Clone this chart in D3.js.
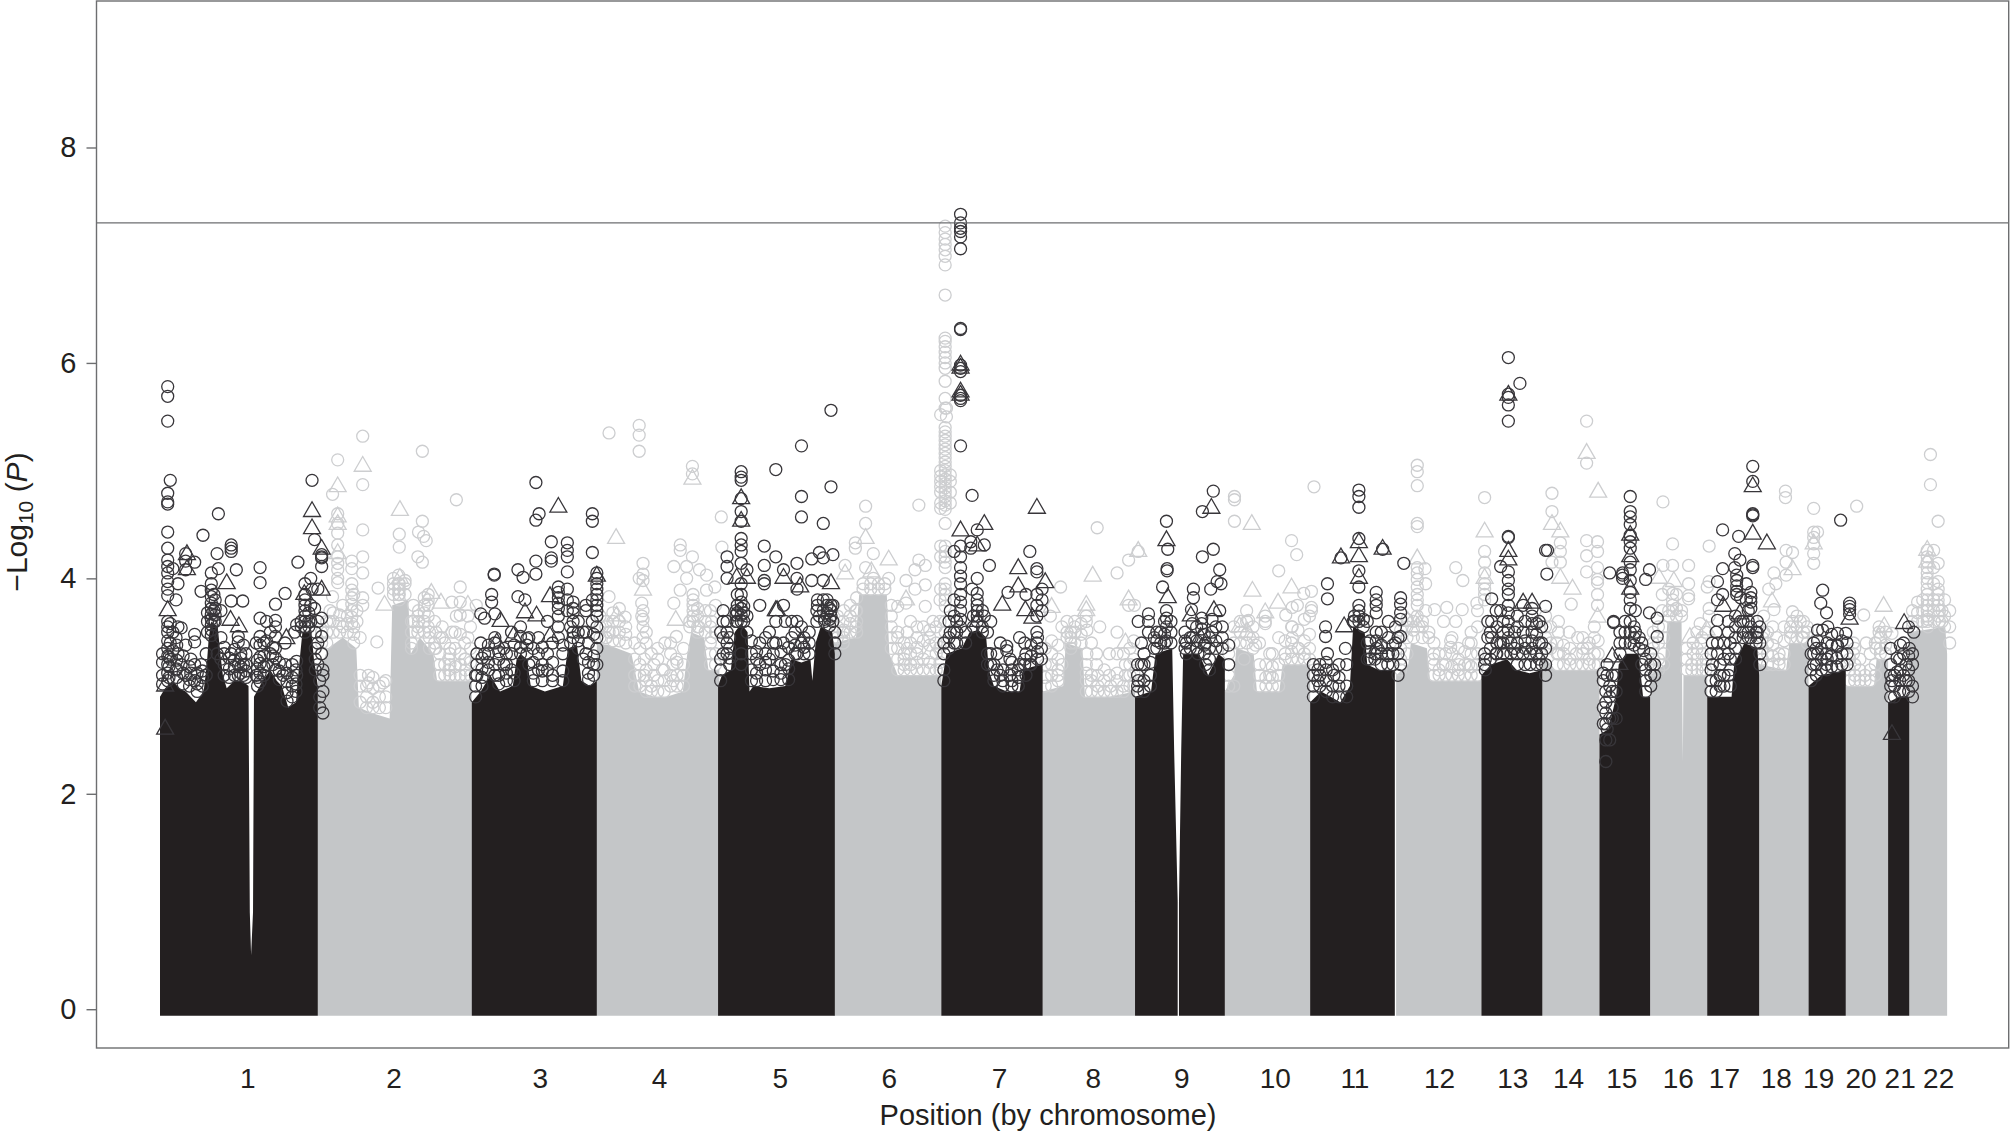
<!DOCTYPE html>
<html>
<head>
<meta charset="utf-8">
<style>
body { margin: 0; background: #fff; }
text { font-family: "Liberation Sans", Arial, sans-serif; fill: #231f20; }
</style>
<script src="https://cdn.jsdelivr.net/npm/d3@7"></script>
</head>
<body>
<div id="chart"></div>
<script>
// chromosome labels and where they sit on the genome axis (Mb, cumulative)
const chromLabels = ["1","2","3","4","5","6","7","8","9","10","11","12","13","14","15","16","17","18","19","20","21","22"]
const chromLabelPos = [136,364,592,778,966,1136,1308,1454,1592,1738,1862,1994,2108,2195,2278,2366,2438,2519,2585,2651,2712,2772]
const yTicks = [0,2,4,6,8]
const threshold = 7.3

// top of the solid mass of points: [position, -log10 P], null ends a chromosome
const darkEnvelope = [
  [0,2.9],[8,2.98],[20,3.05],[30,2.98],[40,2.95],[56,2.85],[68,2.95],[73,3.2],[76,3.45],[80,3.6],[90,3.55],[94,3.3],[98,3.1],[104,2.98],[116,3.05],[128,3.05],[138,3.0],[140,0.9],[142,0.5],[145,0.9],[146.5,2.9],[160,3.05],[172,3.15],[182,3.05],[190,3.0],[200,2.8],[212,2.85],[217,3.2],[222,3.5],[236,3.5],[240,3.25],[246,3.0],null,
  [486,2.85],[500,2.95],[515,3.1],[530,2.95],[550,3.0],[556,3.25],[562,3.3],[572,3.25],[578,3.0],[600,2.95],[628,3.0],[636,3.35],[650,3.38],[657,3.05],[670,3.0],[681,3.05],null,
  [870,3.0],[876,3.1],[890,3.15],[896,3.5],[906,3.58],[916,3.5],[919,2.95],[925,3.0],[950,2.98],[975,3.0],[984,3.25],[1000,3.22],[1014,3.25],[1017,3.05],[1022,3.4],[1030,3.55],[1048,3.5],[1052,3.3],null,
  [1218,3.0],[1226,3.3],[1250,3.35],[1262,3.5],[1276,3.52],[1288,3.45],[1292,3.15],[1300,3.0],[1320,2.95],[1340,2.95],[1345,3.15],[1360,3.18],[1376,3.2],null,
  [1520,2.9],[1545,2.95],[1552,3.3],[1578,3.35],[1581,2.4],[1586.5,1.0],[1586.5,-0.06],null,[1588.5,-0.06],[1588.5,1.0],[1592,2.4],[1595,3.3],[1620,3.3],[1634,3.1],[1650,3.3],[1660,3.25],null,
  [1793,2.85],[1810,2.95],[1825,2.9],[1840,2.85],[1855,3.0],[1860,3.55],[1878,3.5],[1882,3.2],[1900,3.15],[1925,3.15],null,
  [2060,3.1],[2075,3.2],[2100,3.25],[2115,3.15],[2135,3.12],[2155,3.15],null,
  [2244,2.55],[2258,2.6],[2270,2.9],[2274,3.2],[2285,3.3],[2305,3.3],[2312,2.9],[2323,2.9],null,
  [2412,2.9],[2450,2.9],[2454,3.2],[2470,3.4],[2490,3.35],[2493,3.1],null,
  [2570,3.0],[2590,3.1],[2628,3.15],null,
  [2694,2.85],[2712,2.9],[2727,2.9],null
]
const lightEnvelope = [
  [246,3.1],[262,3.35],[285,3.45],[306,3.35],[310,2.8],[330,2.75],[358,2.7],[362,3.75],[387,3.8],[391,3.3],[405,3.45],[426,3.3],[432,3.05],[486,3.05],null,
  [681,3.4],[700,3.38],[735,3.3],[747,2.95],[770,2.9],[790,2.9],[815,2.95],[822,3.3],[828,3.5],[848,3.45],[855,3.15],[872,3.15],null,
  [1050,3.4],[1085,3.45],[1090,3.85],[1133,3.85],[1137,3.3],[1150,3.1],[1185,3.1],[1218,3.1],null,
  [1376,2.95],[1408,3.0],[1412,3.4],[1438,3.35],[1442,2.9],[1480,2.9],[1520,2.95],null,
  [1660,2.95],[1674,3.1],[1678,3.35],[1705,3.3],[1710,2.95],[1745,2.95],[1750,3.2],[1793,3.2],null,
  [1927,3.1],[1946,3.2],[1950,3.4],[1975,3.35],[1980,3.05],[2020,3.05],[2060,3.05],null,
  [2155,3.3],[2175,3.15],[2210,3.15],[2244,3.15],null,
  [2323,3.1],[2346,3.2],[2350,3.6],[2372,3.6],[2374,2.3],[2375,3.1],[2412,3.1],null,
  [2493,3.2],[2535,3.15],[2540,3.4],[2570,3.4],null,
  [2628,3.0],[2672,3.0],[2676,3.25],[2694,3.25],null,
  [2727,3.5],[2783,3.55],[2786,3.3],null
]

// rows are [position, value, value, ...]; odd chromosomes are dark, even ones light
const darkCircles = [
  // chr 1
  [12,5.78,5.69,5.46,4.79,4.71,4.69,4.43,4.28,4.17,4.11,4.05,3.97,3.9,3.84,3.6,3.55,3.5,3.42,3.35,3.28,3.2,3.12,3.05],
  [16,4.91,3.58,3.4,3.25],[20,4.09,3.5,3.33],[28,3.95,3.55,3.3],[25,3.8,3.45,3.15],[33,3.54,3.2],[40,4.23,4.16,4.08,3.38,3.1],
  [54,4.15,3.48,3.41,3.2,3.05],[48,3.25,3.12],[67,4.4],[64,3.88,3.2],[72,3.3,3.1],
  [80,4.05,3.95,3.89,3.83,3.77,3.72,3.67,3.62,3.57,3.52,3.47],[84,3.85,3.7,3.6],[89,4.23,3.3],[91,4.6,4.09],[95,3.7,3.45,3.25],
  [111,4.31,4.28,4.25,3.79,3.3],[119,4.08],[129,3.79],[122,3.46,3.41,3.2,3.1],[130,3.38,3.2,3.1],
  [156,4.1,3.96,3.63,3.46,3.38,3.27,3.21,3.12,3.04],[150,3.1,3.4],[166,3.6,3.42,3.2],[180,3.76,3.61,3.55,3.46,3.35,3.26,3.15],[172,3.5,3.3],
  [195,3.86,3.4,3.2],[192,3.1],[213,3.57,3.23,3.1],[210,3.5],[215,4.15],[226,3.95,3.85,3.8,3.75,3.7,3.65,3.6,3.55,3.5],
  [235,4.0,3.75,3.6],[237,4.91,3.9],[241,4.36,3.72],[252,4.22,4.2,4.19,4.11,3.63,3.46,3.3],[246,3.9,3.6,3.4,3.2],
  // chr 3
  [586,4.89,4.54,4.16,4.04],[591,4.6],[674,4.6,4.53,4.24,3.8,3.6],[610,4.34,4.19,4.16],[635,4.33,4.26,4.2,4.06,3.9,3.8,3.7],[558,4.08,3.83],[566,4.01],
  [521,4.04,4.03],[517,3.85,3.78],[569,3.8],[500,3.67,3.4],[506,3.63,3.3],[522,3.67,3.45,3.4,3.2,3.1],
  [621,3.92,3.87,3.82,3.77,3.72,3.65,3.55,3.45],[644,3.78,3.72,3.68,3.6,3.5,3.45],[681,4.05,4.0,3.95,3.9,3.85,3.8,3.75,3.7,3.65,3.55,3.45,3.35,3.2],
  [664,3.75,3.7,3.5,3.3],[548,3.5,3.3,3.15],[536,3.35,3.2],[575,3.45,3.2],[590,3.45,3.3,3.15],[604,3.6,3.3,3.15],[494,3.2,3.3,3.1],[660,3.5,3.25],
  // chr 5
  [960,5.01,4.2,3.6,3.4],[906,4.99,4.94,4.91,4.74,4.62,4.53,4.37,4.31,4.25,4.14,3.95,3.85,3.78,3.72,3.66,3.6,3.3,3.2],[942,4.3,4.12,3.98,3.95],[972,4.08,3.75,3.4],
  [884,4.2,4.11,4.0,3.6,3.5,3.4,3.3],[878,3.7,3.6,3.45,3.3],[915,4.08,3.65,3.5],[900,3.85,3.75,3.68,3.6],[1000,5.23,4.76,4.57,3.55,3.4],[1046,5.56,4.85,3.75,3.7,3.65],[1034,4.51,3.8,3.7],
  [993,4.14,4.0,3.9,3.6,3.3],[1016,4.18,3.98],[1028,4.24,3.65],[1034,4.19,3.98],[1049,4.22,3.75,3.6],[985,3.6,3.45],[975,3.6,3.2],[950,3.5,3.25],[935,3.75,3.4,3.2],[1025,3.8,3.75],[1040,3.8,3.75,3.68],
  // chr 7
  [1248,7.38,7.3,7.25,7.22,7.17,7.06,6.32,6.31,5.98,5.95,5.92,5.7,5.67,5.65,5.23,4.3,4.2,4.1,4.02,3.95,3.85,3.78,3.7,3.62,3.55],[1266,4.77,3.9],[1274,4.45,4.0,3.86,3.8,3.75,3.7,3.65,3.6],
  [1264,4.34,4.28],[1285,4.31,3.65],[1293,4.12],[1356,4.25,3.2],[1367,4.09,4.06,3.85,3.75,3.65,3.5,3.4],[1322,3.87],[1320,3.37,3.33],[1350,3.85,3.3,3.1],[1375,3.9,3.8,3.7],[1238,4.25,3.8,3.65,3.5,3.4],
  [1232,3.7,3.5],[1295,3.6,3.3,3.2],[1305,3.3,3.15],[1325,3.25,3.1],[1340,3.45,3.2],[1310,3.4,3.1],
  // chr 9
  [1569,4.53,3.7,3.63,3.55,3.42],[1571,4.27],[1570,4.09,4.07],[1563,3.92],[1541,3.67,3.6,3.5],[1525,3.6,3.05],[1530,3.4,3.2],[1550,3.45,3.35],[1560,3.5,3.4],
  [1642,4.81,4.27],[1625,4.62,4.2],[1652,4.08,3.7],[1648,3.97],[1654,3.95],[1638,3.9],[1611,3.9,3.82],[1608,3.71],[1624,3.63,3.58,3.53],[1609,3.58,3.45],[1640,3.62,3.5],[1666,3.38,3.2],[1600,3.4,3.3],[1630,3.4,3.2],[1618,3.3],
  // chr 11
  [1869,4.82,4.76,4.66,4.37,4.07,3.92,3.75,3.7,3.65,3.6],[1841,4.19],[1906,4.27],[1939,4.14],[1820,3.95,3.81,3.3],[1896,3.87,3.8,3.75,3.68,3.5,3.42,3.35],[1934,3.82,3.76,3.68,3.62,3.46,3.2],
  [1817,3.55,3.46],[1848,3.35],[1915,3.6,3.45,3.3],[1805,3.15,3.05],[1860,3.6],[1926,3.55,3.4],[1882,3.6,3.4,3.25],[1830,3.1],
  // chr 13
  [2102,6.05,5.71,5.68,5.61,5.46,4.39,4.38,4.06,3.98,3.9,3.85,3.75,3.68,3.6,3.52,3.45],[2120,5.81],[2090,4.11,3.7,3.4],[2076,3.81,3.6,3.45],[2083,3.7,3.3],[2139,3.72,3.65,3.58,3.5,3.42,3.35],
  [2160,4.26,3.74],[2163,4.26],[2162,4.04],[2125,3.75,3.5,3.3],[2150,3.6,3.4,3.25],[2112,3.5,3.35],[2065,3.3,3.2],[2070,3.6,3.45],
  // chr 15
  [2292,4.76,4.62,4.57,4.5,4.4,4.34,4.28,4.15,4.08,3.98,3.87,3.8,3.72,3.6,3.5,3.4],[2260,4.05],[2280,4.05,4.03,4.0],[2266,3.6,3.59],[2316,3.99],[2322,4.08,3.68],[2334,3.63,3.46],[2313,3.33],[2254,2.95,2.85,2.75,2.65,2.5,2.3],[2260,3.0,2.9,2.7,2.5],[2300,3.7,3.5],[2310,3.4,3.2],
  // chr 17
  [2483,5.04,4.9,4.6,4.59,4.58,4.12,4.1],[2436,4.45,4.09],[2461,4.39],[2455,4.23,4.1],[2463,4.17],[2458,4.03,3.98,3.93,3.88,3.85],[2428,3.97,3.8,3.61,3.4,3.3],[2436,3.85],[2473,3.95,3.8],[2480,3.87,3.82,3.78,3.72,3.55,3.45],[2464,3.82,3.6],[2445,3.6,3.5,3.3,3.1],[2490,3.6,3.5,3.45],[2432,3.2,3.1,3.0],[2420,3.4,3.2],
  // chr 19
  [2592,3.89,3.52],[2589,3.77],[2598,3.68],[2584,3.52,3.42,3.3],[2600,3.55],[2615,3.49,3.38,3.37],[2628,3.49],[2634,3.77,3.74,3.71,3.67],[2620,4.54],[2599,3.4,3.25],[2578,3.4,3.3,3.2],
  // chr 21
  [2726,3.55],[2734,3.5],[2713,3.38,3.15],[2727,3.35],[2708,3.26,3.13],[2700,3.05],[2722,3.2,3.05]
]
// the crowded circles just above the solid mass
const darkBand = [
  [4,3.02,3.1,3.22,3.3],[14,3.08,3.18,3.27],[26,3.08,3.16,3.24,3.38],[36,3.02,3.12,3.28],[46,3.0,3.06,3.18],[58,2.95,3.02,3.12],[66,3.0,3.08,3.14],[74,3.5,3.6,3.68],[86,3.6,3.66,3.72,3.8],[100,3.1,3.2,3.3,3.36],[108,3.08,3.16,3.26],[116,3.1,3.18,3.24,3.34],[126,3.12,3.18,3.26,3.3],[134,3.08,3.14,3.2,3.3],
  [152,3.0,3.08,3.16,3.24],[162,3.1,3.18,3.28,3.4],[176,3.2,3.28,3.36],[186,3.06,3.14,3.22],[198,2.86,2.94,3.04,3.12],[206,2.9,3.0,3.08,3.2],[212,2.95,3.02,3.15],[220,3.55,3.6],[232,3.55,3.6,3.68],[242,3.15,3.25,3.35,3.5],[249,2.8,2.9,3.05],[254,2.75,2.95,3.1,3.15],
  [492,2.9,3.0,3.1],[502,3.0,3.08,3.16,3.26],[512,3.15,3.22,3.3,3.38],[528,3.02,3.1,3.25,3.32],[540,3.05,3.12,3.2,3.3],[552,3.05,3.12,3.38],[562,3.3,3.36,3.46,3.55],[572,3.3,3.38,3.44],[582,3.05,3.12,3.22,3.35],[596,3.05,3.14,3.2,3.36],[612,3.05,3.1,3.22,3.4],[628,3.05,3.14,3.3,3.38],[640,3.4,3.55],[652,3.42,3.35,3.5,3.6],[668,3.06,3.12,3.22,3.4],[676,3.1,3.2,3.28,3.48],
  [874,3.05,3.15,3.25,3.5],[888,3.2,3.26,3.35,3.45],[898,3.6,3.66,3.7],[910,3.6,3.68,3.74],[922,3.05,3.15,3.3,3.42],[930,3.05,3.12,3.25,3.32],[944,3.05,3.15,3.22,3.3,3.45],[956,3.06,3.14,3.3,3.4],[968,3.06,3.12,3.2,3.32],[980,3.06,3.16,3.24,3.36],[990,3.3,3.38,3.5],[1004,3.3,3.36,3.45],[1012,3.3,3.4,3.5],[1024,3.6,3.7],[1036,3.6,3.62],[1044,3.56,3.62,3.72],[1052,3.3,3.4,3.5],
  [1222,3.05,3.15,3.3,3.4],[1230,3.35,3.45,3.6],[1242,3.4,3.5,3.6],[1256,3.4,3.5],[1268,3.55,3.65],[1282,3.5,3.55,3.7],[1290,3.5,3.3,3.2],[1300,3.05,3.1,3.2],[1314,3.0,3.05,3.15],[1328,3.0,3.05,3.15,3.22],[1338,3.0,3.08,3.15],[1348,3.2,3.25,3.4],[1358,3.2,3.28,3.38],[1368,3.25,3.32,3.45],[1374,3.25,3.35],
  [1524,2.95,3.0,3.1,3.2],[1534,2.95,3.05,3.2,3.3],[1544,3.0,3.1,3.22],[1554,3.35,3.42,3.5],[1566,3.4,3.48,3.6],[1576,3.4,3.5,3.6],[1598,3.35,3.42,3.5],[1606,3.35,3.45],[1616,3.35,3.42,3.55],[1628,3.3,3.38,3.48],[1636,3.15,3.25,3.35,3.45],[1646,3.35,3.42,3.55],[1656,3.35,3.45,3.55],
  [1798,2.9,3.0,3.1,3.2],[1808,3.0,3.1,3.2],[1818,2.95,3.05,3.15,3.22],[1828,2.9,3.0,3.15],[1838,2.9,3.0,3.08,3.2],[1850,2.9,3.0,3.2],[1862,3.6,3.65],[1876,3.55,3.62],[1886,3.25,3.32,3.42],[1894,3.25,3.3],[1904,3.2,3.3,3.38,3.5],[1914,3.2,3.28],[1922,3.2,3.3,3.38],[1930,3.1,3.3,3.45],
  [2066,3.15,3.25],[2074,3.25,3.35,3.5],[2084,3.3,3.4,3.55],[2094,3.3,3.4,3.5,3.6],[2106,3.3,3.4],[2116,3.2,3.3,3.4,3.55,3.65],[2128,3.2,3.35,3.42,3.6],[2136,3.2,3.3],[2146,3.2,3.3,3.48,3.58],[2154,3.2,3.3,3.4,3.55],[2160,3.1,3.2,3.35],
  [2250,2.65,2.8,3.05,3.12],[2256,2.6,3.1,3.2],[2264,2.7,2.8,2.95,3.1],[2270,2.7,2.95,3.1],[2276,3.3,3.4,3.5],[2284,3.4,3.5,3.6],[2298,3.38,3.45,3.55],[2306,3.35,3.45],[2316,2.95,3.05,3.15,3.25],[2324,3.0,3.1,3.2,3.3],[2330,3.1,3.2],
  [2418,2.95,3.05,3.15,3.3],[2426,2.95,3.05,3.5],[2438,3.0,3.1,3.25,3.4],[2448,3.0,3.15,3.25,3.4],[2456,3.25,3.35,3.45,3.55,3.65],[2468,3.45,3.5,3.6],[2476,3.45,3.5,3.6,3.7],[2488,3.4,3.5],[2494,3.2,3.3,3.4,3.55],
  [2574,3.05,3.15,3.3],[2582,3.1,3.2,3.35],[2590,3.15,3.25,3.35],[2598,3.15,3.2,3.3],[2606,3.18,3.28,3.38,3.48],[2614,3.18,3.26],[2622,3.2,3.3,3.42],[2630,3.2,3.3,3.4],
  [2698,2.9,3.0,3.1,3.2,3.35],[2704,2.9,3.0,3.1],[2712,2.95,3.05,3.25],[2718,2.95,3.1,3.3,3.4],[2726,2.95,3.05,3.15,3.28],[2732,2.9,3.0,3.2,3.3]
]
const darkTriangles = [
  [12,3.7],[42,4.22,4.08],[104,3.95],[110,3.61],[123,3.55],[197,3.44],[237,4.62,4.46],[252,4.27,3.89],[225,3.85],[8,3.0,2.6],
  [621,4.66],[681,4.02],[531,3.6],[587,3.65],[569,3.68],[608,3.83,3.46],[551,3.46],[525,3.4],
  [906,4.74,4.53],[899,4.0],[915,4.0],[972,4.0],[960,3.7],[1046,3.95],[998,3.92],[962,3.7],[1000,3.4],
  [1248,5.98,5.95,5.73,5.7,4.44],[1367,4.65],[1285,4.5],[1274,4.3],[1338,4.09,3.92],[1380,3.96],[1313,3.75],[1349,3.7],[1360,3.63],[1275,3.6],
  [1569,4.35],[1571,3.82],[1639,4.65],[1607,3.65],[1643,3.7],[1622,3.45],
  [1869,4.33,4.2,4.0],[1841,4.19],[1906,4.27],[1846,3.55],[1900,3.35],
  [2102,5.7,4.25,4.17],[2125,3.77],[2139,3.77],[2095,3.3],
  [2264,3.27],[2292,4.4,4.2,3.9],[2275,3.2],
  [2483,4.85,4.41],[2505,4.32],[2437,3.74],[2463,3.67],
  [2634,3.62],[2719,3.58],[2700,2.55]
]
const lightCircles = [
  // chr 2
  [277,5.1,4.6,4.51,4.42,4.31,4.2,4.14,4.08,4.0,3.96],[269,4.78,3.83],[316,5.32,4.87,4.45,4.2,4.05,3.82,3.75],[409,5.18,4.53],[462,4.73,3.65],[373,4.41,4.29,3.95,3.9,3.85,3.8],[403,4.43,3.7,3.6],[411,4.39],[415,4.35],
  [402,4.2],[409,4.15],[299,4.16,4.09,3.95,3.89,3.82,3.76,3.7,3.64,3.58],[340,3.91],[338,3.41],[468,3.92,3.78,3.66],[455,3.78,3.5],[325,3.1,3.03],[332,2.98,3.08],[348,3.03],[307,3.7,3.6],
  [440,3.55,3.45],[430,3.5,3.35],[480,3.65,3.45],[418,3.85,3.8,3.75,3.65,3.55],[285,3.55,3.75],[265,3.6,3.7],[475,3.4,3.25],[450,3.25,3.15],[395,3.6,3.75],
  // chr 4
  [700,5.35,3.83,3.5],[747,5.42,5.33,5.18,4.0],[830,5.04,4.97],[875,4.57],[876,4.29],[811,4.31,4.26,3.89],[830,4.2],[801,4.11,3.77],[821,4.11,4.0],[841,4.08],[852,4.03,3.89],[753,4.14,4.04,3.98,3.7,3.62,3.55,3.45],[865,3.92],
  [831,3.85,3.8,3.75,3.7,3.65,3.6],[751,3.77,3.65],[787,3.4],[805,3.46,3.25],[725,3.64],[716,3.72],[755,3.25,3.1],[770,3.2,3.1],[783,3.15],[800,3.2,3.05],[493,3.75],[840,3.55],[695,3.55,3.45],[860,3.6,3.45],
  // chr 6
  [1100,4.67,4.51,4.1],[1084,4.33,4.28],[1183,4.68,4.17],[1068,4.12],[1112,4.23,4.0],[1136,4.0],[1193,4.12,3.94,3.74],[1177,4.08],[1163,3.98,3.77],[1177,3.9],[1150,3.74,3.5],[1065,3.6,3.5,3.4],[1085,3.7,3.55],[1165,3.5,3.35],[1180,3.45,3.3],[1200,3.45],[1160,3.3,3.2],[1205,3.6],
  [1224,7.27,7.21,7.15,7.1,7.05,6.99,6.91,6.63,6.23,6.2,6.15,6.1,6.05,6.0,5.95,5.83,5.67,5.58,5.4,5.36,5.32,5.28,5.24,5.2,5.16,5.12,5.08,5.04,5.0,4.96,4.92,4.88,4.84,4.8,4.76,4.72,4.68,4.64,4.51,4.3,4.25,4.2,4.15,4.1,3.95,3.9,3.85,3.8,3.74,3.6,3.5,3.4],
  [1217,5.52,5.0,4.95,4.9,4.85,4.8,4.7,4.65,4.3,4.2,3.9],[1232,4.96,4.9,4.8,4.7],[1226,5.5,5.58],
  // chr 8
  [1461,4.47],[1525,4.25],[1510,4.17,3.75],[1492,4.05],[1404,3.92],[1519,3.75],[1444,3.65,3.6],[1388,3.65],[1445,3.52,3.3],[1465,3.55],[1492,3.5],[1406,3.55,3.2],[1420,3.5,3.45,3.4,3.35],[1460,3.3,3.2],[1480,3.3,3.1],[1505,3.2,3.1],[1400,3.1],[1390,3.3],
  // chr 10
  [1675,4.76,4.73,4.53],[1764,4.35],[1772,4.22],[1744,4.07],[1799,4.85],[1795,3.88,3.73,3.7],[1783,3.86],[1773,3.75],[1765,3.73],[1755,3.66],[1723,3.65,3.6,3.58],[1697,3.61],[1708,3.38],[1744,3.45],[1765,3.55,3.45],[1730,3.3,3.1],[1690,3.25],[1775,3.35],
  // chr 12
  [1960,5.05,4.99,4.86,4.51,4.48,4.1,4.05,3.99,3.92,3.85,3.8,3.75,3.65],[1972,4.09],[1973,3.95],[1973,3.7],[1987,3.71],[2006,3.73],[2030,3.71],[2020,4.1,3.6],[2031,3.98],[2001,3.6],[2065,4.75,4.25,4.15,4.05,3.95,3.9,3.85,3.8],[2053,3.77],[2012,3.42,3.36],[2040,3.4,3.2],[1985,3.25],[2000,3.2],[2025,3.2],
  // chr 14
  [2224,5.46,5.07,4.35,4.21,4.06],[2170,4.79,4.62,4.15],[2183,4.33,4.25,4.15],[2241,4.34,4.25,4.1,3.99,3.96,3.85,3.75],[2200,3.76],[2210,3.45],[2197,3.5],[2180,3.3,3.5,3.6],[2225,3.35],
  // chr 16
  [2343,4.71,4.12],[2358,4.32,4.12,3.86,3.8,3.75,3.7],[2383,4.12,3.95,3.84,3.81],[2415,4.3,3.97],[2412,3.92],[2415,3.72,3.65],[2401,3.58],[2342,3.85,3.7],[2328,3.5,3.35],[2390,3.4,3.3],[2402,3.4],
  // chr 18
  [2534,4.81,4.75],[2535,4.26],[2545,4.24],[2535,4.15],[2516,4.05],[2519,3.95],[2508,3.9],[2535,4.03],[2516,3.71],[2545,3.69,3.6],[2532,3.55],[2557,3.6],[2500,3.65,3.5],[2520,3.45],[2560,3.45],
  // chr 20 and the edge of 18
  [2578,4.65,4.43,4.38,4.32,4.23,4.14],[2584,4.43],[2645,4.67],[2656,3.66],[2680,3.55],[2680,3.5],[2700,3.49],[2660,3.4],[2640,3.4,3.3],[2690,3.3],[2675,3.35],
  // chr 22
  [2760,5.15,4.87],[2772,4.53,4.14,3.97,3.9,3.85,3.8,3.75,3.65],[2755,4.26,4.2,4.15,4.1,4.05,4.0,3.96,3.9,3.85,3.8,3.75,3.7,3.65,3.6],[2765,4.26,4.1,3.95,3.8,3.7],[2778,3.6,3.7]
]
const lightBand = [
  [252,3.15,3.3,3.4,3.5],[260,3.4,3.5,3.6],[270,3.5,3.6,3.68],[280,3.5,3.58,3.66],[292,3.5,3.58,3.65],[302,3.4,3.48,3.55,3.85],[312,2.85,3.0,3.1,3.45],[322,2.8,2.9,3.0],[332,2.8,2.85],[342,2.8,2.9,3.0],[352,2.8,2.9,3.05],[364,3.85,3.9,3.95,4.0],[372,3.85,3.9,3.95,4.03],[382,3.85,3.95,3.98],[392,3.35,3.4,3.5,3.6],[402,3.5,3.55,3.65],[412,3.5,3.6,3.68,3.75,3.82],[420,3.35,3.45,3.5],[428,3.35,3.4,3.6],[436,3.1,3.2,3.3,3.45],[444,3.1,3.2,3.4],[452,3.1,3.2,3.3,3.35],[460,3.1,3.18,3.35,3.5],[468,3.1,3.2,3.3,3.48],[476,3.1,3.15,3.25],[484,3.1,3.22,3.35,3.55],
  [686,3.45,3.55,3.65],[696,3.45,3.6],[706,3.42,3.5,3.6,3.68],[716,3.42,3.5,3.6],[726,3.4,3.48,3.55],[740,3.0,3.1,3.25,3.4],[748,3.0,3.1,3.2,3.35],[758,2.95,3.05,3.15,3.4,3.5],[766,2.95,3.0,3.3],[776,2.95,3.05,3.25,3.35],[786,2.95,3.05,3.15],[796,3.0,3.1,3.3,3.4],[806,3.0,3.1,3.22],[816,3.0,3.1,3.2,3.35],[826,3.55,3.6],[838,3.5,3.55,3.65,3.72],[850,3.5,3.6,3.7],[858,3.2,3.3,3.4,3.55,3.7],[866,3.2,3.3,3.5,3.75],
  [1056,3.45,3.55,3.65],[1066,3.45,3.52,3.7],[1076,3.5,3.58,3.65,3.75],[1086,3.5,3.6,3.7,3.82],[1096,3.9,3.95],[1108,3.9,3.95],[1120,3.9,3.95],[1130,3.9,3.95],[1140,3.35,3.45,3.55,3.65,3.75],[1150,3.15,3.25,3.35,3.45],[1160,3.15,3.25,3.4],[1170,3.15,3.2,3.3,3.4,3.6],[1180,3.15,3.22,3.36,3.55],[1190,3.15,3.25,3.42,3.55],[1200,3.15,3.22,3.38,3.52],[1210,3.15,3.3,3.4,3.55],[1216,3.15,3.22,3.36,3.6,3.8],
  [1380,3.0,3.08,3.2,3.35],[1390,3.0,3.1,3.2,3.42],[1400,3.05,3.15,3.25,3.38],[1414,3.45,3.5,3.6],[1426,3.4,3.5,3.55,3.6],[1436,3.4,3.48,3.58],[1444,2.95,3.05,3.12,3.2],[1452,2.95,3.05,3.1,3.4],[1462,2.95,3.0,3.1],[1472,2.95,3.05,3.15],[1482,2.95,3.0],[1492,2.95,3.05,3.12,3.3],[1502,2.95,3.0,3.3],[1512,3.0,3.1,3.2,3.35],[1518,3.0,3.12,3.25,3.42],
  [1666,3.0,3.1,3.2,3.3],[1674,3.0,3.4,3.55],[1684,3.4,3.5,3.6],[1694,3.4,3.48,3.6,3.7],[1704,3.35,3.45,3.55],[1714,3.0,3.1,3.2,3.4],[1724,3.0,3.08,3.2],[1734,3.0,3.08,3.18,3.3],[1744,3.0,3.1,3.2],[1754,3.25,3.3,3.42],[1764,3.25,3.32,3.4,3.55],[1774,3.25,3.35,3.52],[1784,3.25,3.3,3.42,3.62],[1792,3.25,3.35,3.48,3.65],
  [1934,3.15,3.25,3.35,3.52],[1944,3.3,3.45,3.55,3.62],[1954,3.45,3.52,3.6],[1968,3.45,3.55,3.6],[1978,3.45,3.5],[1986,3.1,3.2,3.3,3.4],[1994,3.1,3.15,3.3],[2004,3.1,3.2,3.3],[2014,3.1,3.18,3.3,3.45],[2024,3.1,3.15,3.25,3.35],[2034,3.1,3.2,3.32],[2044,3.1,3.18,3.3,3.4,3.5],[2054,3.1,3.2,3.3,3.55,3.7],
  [2160,3.35,3.45,3.55,3.65],[2168,3.35,3.4,3.55],[2178,3.2,3.3,3.4],[2188,3.2,3.3,3.38],[2198,3.2,3.25,3.35],[2208,3.2,3.3],[2218,3.2,3.3,3.35,3.45],[2228,3.2,3.25,3.4],[2236,3.2,3.3,3.45,3.55],[2242,3.2,3.3,3.42],
  [2328,3.15,3.25,3.4],[2336,3.15,3.25,3.4,3.55],[2344,3.2,3.3,3.45,3.55],[2352,3.65,3.7,3.9],[2364,3.65,3.72,3.85],[2372,3.65,3.7],[2380,3.15,3.25,3.35],[2388,3.15,3.2],[2396,3.15,3.25,3.35,3.5],[2404,3.15,3.2,3.3,3.45],[2410,3.15,3.25,3.5],
  [2498,3.25,3.35,3.45],[2506,3.2,3.3,3.4,3.5],[2514,3.2,3.28,3.38,3.55],[2524,3.2,3.25,3.3],[2532,3.2,3.3,3.42],[2542,3.45,3.5,3.55],[2552,3.45,3.55,3.65],[2562,3.45,3.5,3.6],[2568,3.4,3.5,3.55],
  [2634,3.05,3.15,3.25],[2642,3.05,3.1,3.2,3.35],[2650,3.05,3.15,3.25],[2658,3.05,3.1],[2666,3.05,3.15,3.3],[2674,3.1,3.2,3.4],[2682,3.3,3.35,3.45],[2690,3.3,3.38,3.5],
  [2732,3.55,3.6,3.7],[2740,3.6,3.68,3.78],[2748,3.6,3.7,3.8],[2756,3.55,3.62],[2766,3.6],[2774,3.6,3.7],[2782,3.55,3.65,3.8],[2790,3.4,3.55,3.7]
]
const lightTriangles = [
  [316,5.04],[277,4.85,4.57,4.5,4.23],[374,4.63,4.0],[423,3.86],[438,3.77],[350,3.75],[480,3.75],
  [830,4.92],[711,4.37],[753,3.89],[804,3.61],[712,3.65],
  [1100,4.37],[1136,4.17],[1163,3.8],[1109,4.06],[1068,4.04],[1200,3.3],
  [1525,4.25],[1454,4.02],[1510,3.8],[1444,3.75],[1444,3.7],[1505,3.4],[1390,3.73],
  [1702,4.5],[1703,3.88],[1764,3.91],[1743,3.77],[1723,3.68],[1683,3.55],[1695,3.5],
  [1960,4.18,3.6,3.55],[2065,4.43,4.0],[1945,3.6],
  [2224,5.16],[2242,4.8],[2170,4.5],[2183,4.43,4.0],[2202,3.9],[2241,3.64],
  [2337,4.0],[2360,3.97],[2385,3.45],[2411,3.52],
  [2545,4.08],[2513,3.78],[2578,4.32],
  [2687,3.74],[2688,3.55],[2680,3.45],
  [2755,4.26,4.15]
]

const width = 2011, height = 1131
const frame = { left: 96.5, right: 2008.7, top: 1, bottom: 1048 }

const svg = d3.select("#chart").append("svg")
  .attr("width", width)
  .attr("height", height)
  .style("display", "block")

const xScale = d3.scaleLinear().domain([-99, 2882]).range([frame.left, frame.right])
const yScale = d3.scaleLinear().domain([-0.36, 9.36]).range([frame.bottom, frame.top])

const darkColor = "#231f20"
const greyColor = "#c4c6c8"
const lineColor = "#6d6e70"

function envelopeArea(rows) {
  return d3.area()
    .defined(d => d !== null)
    .x(d => xScale(d[0]))
    .y0(yScale(-0.06))
    .y1(d => yScale(d[1]))(rows)
}

// [pos, v1, v2...] -> one entry per point
function flatten(rows) {
  return rows.flatMap(r => r.slice(1).map(v => ({ pos: r[0], val: v })))
}

function drawLayer(envelope, circles, triangles, fillColor, strokeColor) {
  const g = svg.append("g")
  g.append("path")
    .attr("d", envelopeArea(envelope))
    .attr("fill", fillColor)
  g.append("g").selectAll("circle")
    .data(flatten(circles))
    .join("circle")
    .attr("cx", d => xScale(d.pos))
    .attr("cy", d => yScale(d.val))
    .attr("r", 6)
    .attr("fill", "none")
    .attr("stroke", strokeColor)
    .attr("stroke-width", 1.3)
  g.append("g").selectAll("path")
    .data(flatten(triangles))
    .join("path")
    .attr("d", d3.symbol(d3.symbolTriangle, 125))
    .attr("transform", d => `translate(${xScale(d.pos)},${yScale(d.val)})`)
    .attr("fill", "none")
    .attr("stroke", strokeColor)
    .attr("stroke-width", 1.3)
}

drawLayer(lightEnvelope, lightCircles.concat(lightBand), lightTriangles, greyColor, "#cdced0")
drawLayer(darkEnvelope, darkCircles.concat(darkBand), darkTriangles, darkColor, "#38363a")

// threshold line and frame
svg.append("line")
  .attr("x1", frame.left).attr("x2", frame.right)
  .attr("y1", yScale(threshold)).attr("y2", yScale(threshold))
  .attr("stroke", lineColor).attr("stroke-width", 1.4)

svg.append("rect")
  .attr("x", frame.left).attr("y", frame.top)
  .attr("width", frame.right - frame.left)
  .attr("height", frame.bottom - frame.top)
  .attr("fill", "none")
  .attr("stroke", lineColor).attr("stroke-width", 1.4)

const yAxis = d3.axisLeft(yScale).tickValues(yTicks).tickSize(10).tickPadding(10).tickFormat(d3.format("d"))
svg.append("g")
  .attr("transform", `translate(${frame.left},0)`)
  .call(yAxis)
  .call(g => g.select(".domain").remove())
  .call(g => g.selectAll(".tick line").attr("stroke", lineColor).attr("stroke-width", 1.4))
  .call(g => g.selectAll("text").attr("font-size", 29).attr("fill", "#231f20").style("font-family", "Liberation Sans"))

const xAxis = d3.axisBottom(xScale).tickValues(chromLabelPos).tickSize(0).tickPadding(20)
  .tickFormat((d, i) => chromLabels[i])
svg.append("g")
  .attr("transform", `translate(0,${frame.bottom})`)
  .call(xAxis)
  .call(g => g.select(".domain").remove())
  .call(g => g.selectAll("text").attr("font-size", 28).attr("fill", "#231f20").style("font-family", "Liberation Sans"))

svg.append("text")
  .attr("x", 1048).attr("y", 1125)
  .attr("text-anchor", "middle")
  .attr("font-size", 29)
  .text("Position (by chromosome)")

const yTitle = svg.append("text")
  .attr("transform", "translate(27,522) rotate(-90)")
  .attr("text-anchor", "middle")
  .attr("font-size", 30)
yTitle.append("tspan").text("\u2212Log")
yTitle.append("tspan").attr("font-size", 21).attr("dy", 6).text("10")
yTitle.append("tspan").attr("dy", -6).text(" (")
yTitle.append("tspan").attr("font-style", "italic").text("P")
yTitle.append("tspan").text(")")
</script>
</body>
</html>
